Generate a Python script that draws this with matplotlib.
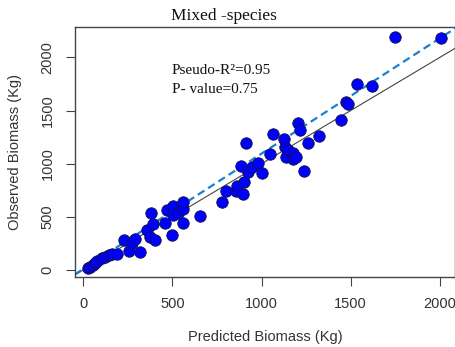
import numpy as np
import matplotlib.pyplot as plt

# predicted vs observed biomass (Kg)
predicted = [28, 37, 56, 65, 75, 103, 120, 145, 159, 187, 230, 258, 275, 290, 318,
             355, 374, 378, 389, 402, 458, 471, 499, 501, 505, 533, 557, 561, 561,
             654, 776, 800, 854, 864, 882, 897, 900, 912, 925, 944, 981, 1004, 1050,
             1065, 1127, 1131, 1136, 1150, 1174, 1178, 1196, 1202, 1215, 1239, 1262,
             1323, 1443, 1471, 1486, 1538, 1622, 1748, 2006]
observed = [16, 31, 47, 69, 80, 110, 125, 140, 147, 150, 282, 182, 251, 288, 172,
            376, 313, 533, 433, 282, 445, 564, 329, 517, 602, 533, 571, 643, 439,
            508, 636, 746, 746, 793, 978, 712, 824, 1197, 925, 972, 1009, 909, 1091,
            1279, 1229, 1160, 1060, 1129, 1097, 1041, 1066, 1386, 1317, 934, 1197,
            1260, 1411, 1577, 1561, 1746, 1730, 2194, 2185]

fit_intercept = 10
fit_slope = 1.085

xticks = [0, 500, 1000, 1500, 2000]
yticks = [0, 500, 1000, 1500, 2000]

fig = plt.figure(figsize=(4.56, 3.47), dpi=100)
ax = fig.add_axes([0.1638, 0.2026, 0.834, 0.7187])

xlim = (-48, 2085)
ylim = (-63, 2283)

xx = np.array(xlim)
ax.plot(xx, xx, color='#444444', lw=0.8, zorder=1)  # 1:1 line
ax.plot(xx, fit_intercept + fit_slope * xx, color='#1a7fd4', lw=1.6,
        ls=(0, (3.5, 2)), zorder=2)

ax.scatter(predicted, observed, s=68, c='#0000ff', edgecolors='#111144',
           linewidths=0.6, zorder=3)

ax.set_xlim(xlim)
ax.set_ylim(ylim)
ax.set_xticks(xticks)
ax.set_yticks(yticks)
ax.tick_params(length=6.5, width=0.8, color='#444444', labelsize=10.5,
               labelcolor='#333333', pad=8)
for lab in ax.get_yticklabels():
    lab.set_rotation(90)
    lab.set_va('center')
for s in ax.spines.values():
    s.set_color('#444444')
    s.set_linewidth(1.0)

ax.set_xlabel('Predicted Biomass (Kg)', fontsize=10.5, color='#333333',
              family='Liberation Sans', labelpad=14)
ax.set_ylabel('Observed Biomass (Kg)', fontsize=10.5, color='#333333',
              family='Liberation Sans', labelpad=13)
for lab in ax.get_xticklabels() + ax.get_yticklabels():
    lab.set_family('Liberation Sans')

fig.text(224 / 456, 1 - 16 / 347, 'Mixed -species', family='Liberation Serif',
         fontsize=12.5, ha='center', va='center', color='#111111')
fig.text(172 / 456, 1 - 74 / 347, 'Pseudo-R\u00b2=0.95', fontsize=11,
         family='Liberation Serif', color='#111111', va='baseline')
fig.text(172 / 456, 1 - 93 / 347, 'P- value=0.75', fontsize=11,
         family='Liberation Serif', color='#111111', va='baseline')

fig.savefig('out.png', dpi=100)
